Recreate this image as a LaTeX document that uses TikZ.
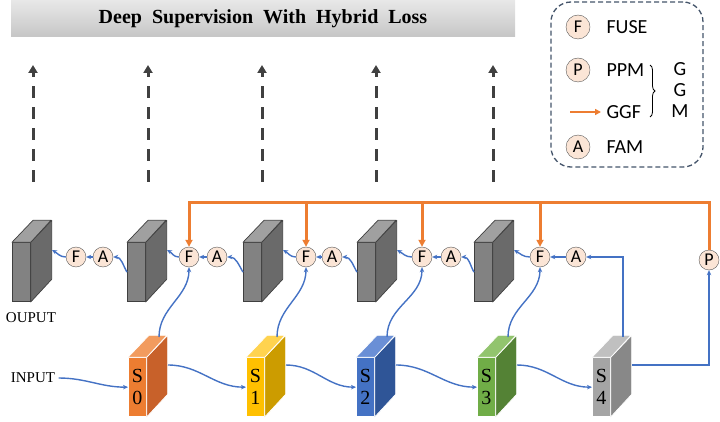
\documentclass[tikz,border=0pt]{standalone}
\usepackage{fontspec}
\setmainfont{Liberation Serif}
\newfontfamily\calib{Carlito}
\usetikzlibrary{arrows.meta,positioning,decorations.pathreplacing}

\definecolor{bluearrow}{HTML}{4472C4}
\definecolor{ggforange}{HTML}{ED7D31}
\definecolor{circfill}{HTML}{FBE5D6}
\definecolor{legendcol}{HTML}{44546A}
\definecolor{darkarrow}{HTML}{404040}
\definecolor{grayfront}{HTML}{828282}
\definecolor{grayside}{HTML}{6A6A6A}
\definecolor{graytop}{HTML}{A0A0A0}
\definecolor{grayedge}{HTML}{3F3F3F}
\definecolor{sofront}{HTML}{ED7D31}
\definecolor{soside}{HTML}{C8612A}
\definecolor{sotop}{HTML}{F29B5E}
\definecolor{sifront}{HTML}{FFC000}
\definecolor{siside}{HTML}{CC9C00}
\definecolor{sitop}{HTML}{FFD34F}
\definecolor{siifront}{HTML}{4472C4}
\definecolor{siiside}{HTML}{2F5597}
\definecolor{siitop}{HTML}{6A8FD6}
\definecolor{siiifront}{HTML}{70AD47}
\definecolor{siiiside}{HTML}{548235}
\definecolor{siiitop}{HTML}{92C46E}
\definecolor{sivfront}{HTML}{A5A5A5}
\definecolor{sivside}{HTML}{888888}
\definecolor{sivtop}{HTML}{C0C0C0}

\tikzset{
  op/.style={draw=gray!70!black, fill=circfill, circle, minimum size=20pt, inner sep=0pt,
    font=\calib\fontsize{18}{18}\selectfont},
  legop/.style={op, minimum size=24pt},
  blueline/.style={draw=bluearrow, line width=1.4pt, -{Stealth[length=5pt,width=4.5pt]}},
  ggfline/.style={draw=ggforange, line width=3pt, -{Triangle[length=7pt,width=7pt]}},
  superv/.style={draw=darkarrow, line width=3pt, dash pattern=on 12pt off 9pt,
    -{Triangle[length=8pt,width=9pt]}},
  lbl/.style={font=\fontsize{15}{15}\selectfont},
  legtext/.style={anchor=west, font=\calib\fontsize{20}{20}\selectfont},
  titlebar/.style={minimum width=504pt, minimum height=37pt, inner sep=0pt,
    top color=gray!18, bottom color=gray!45,
    font=\bfseries\fontsize{20}{20}\selectfont},
}

% feature map block: name, x, y, front, side, top, edge, text
\newcommand{\featmap}[8]{%
  \node[fill=#4, draw=#7, line width=0.7pt, minimum width=18pt, minimum height=59pt,
    inner sep=0pt, anchor=south west, align=center,
    font=\fontsize{20}{22}\selectfont] (#1) at (#2,#3) {#8};
  \filldraw[fill=#5, draw=#7, line width=0.7pt, line join=round]
    (#1.north east) -- ++(21,22) -- ++(0,-59) -- (#1.south east) -- cycle;
  \filldraw[fill=#6, draw=#7, line width=0.7pt, line join=round]
    (#1.north west) -- ++(21,22) -- ++(18,0) -- (#1.north east) -- cycle;
  \coordinate (#1s) at (#2+40,#3+52);
  \coordinate (#1t) at (#2+31,#3+80);
}

\begin{document}
\begin{tikzpicture}[x=1pt,y=1pt]
  \useasboundingbox (0,0) rectangle (720,421);

  \node[titlebar] (title) at (263,402.5) {\spaceskip=10pt\relax Deep Supervision With Hybrid Loss};
  \foreach \x in {33,148,262,376,493}
    \draw[superv] (\x,239) -- (\x,356);

  % legend
  \node[draw=legendcol, line width=1.3pt, dash pattern=on 5pt off 3pt, rounded corners=20pt,
    minimum width=152pt, minimum height=165pt] (legend) at (627,336.5) {};
  \node[legop] (lf) at (578,394) {F};
  \node[legtext] (lfuse) at (603,394) {FUSE};
  \node[legop] (lp) at (578,351) {P};
  \node[legtext] (lppm) at (603,351) {PPM};
  \coordinate (lggf0) at (570,309);
  \coordinate (lggf1) at (601,309);
  \draw[ggfline, line width=2.5pt, -{Triangle[length=6pt,width=6pt]}] (lggf0) -- (lggf1);
  \node[legtext] (lggf) at (603,309) {GGF};
  \node[legop] (la) at (578,274) {A};
  \node[legtext] (lfam) at (603,274) {FAM};
  \draw[decorate, decoration={brace, amplitude=5pt}, line width=0.8pt]
    (650,356) -- (650,304);
  \node[align=center, font=\calib\fontsize{20}{21}\selectfont] (ggm) at (680,331) {G\\G\\M};

  % feature maps
  \featmap{g1}{12}{119}{grayfront}{grayside}{graytop}{grayedge}{}
  \featmap{g2}{127}{119}{grayfront}{grayside}{graytop}{grayedge}{}
  \featmap{g3}{243}{119}{grayfront}{grayside}{graytop}{grayedge}{}
  \featmap{g4}{357}{119}{grayfront}{grayside}{graytop}{grayedge}{}
  \featmap{g5}{474}{119}{grayfront}{grayside}{graytop}{grayedge}{}

  \featmap{s0}{128}{4}{sofront}{soside}{sotop}{white}{S\\0}
  \featmap{s1}{246}{4}{sifront}{siside}{sitop}{white}{S\\1}
  \featmap{s2}{356}{4}{siifront}{siiside}{siitop}{white}{S\\2}
  \featmap{s3}{477}{4}{siiifront}{siiiside}{siiitop}{white}{S\\3}
  \featmap{s4}{592}{4}{sivfront}{sivside}{sivtop}{white}{S\\4}

  \node[lbl] (ouput) at (31,103) {OUPUT};
  \node[lbl] (input) at (33,43) {INPUT};

  % fuse / attention modules
  \node[op] (f1) at (76,164) {F};
  \node[op] (a1) at (103,164) {A};
  \node[op] (f2) at (189,164) {F};
  \node[op] (a2) at (217,164) {A};
  \node[op] (f3) at (306,164) {F};
  \node[op] (a3) at (332,164) {A};
  \node[op] (f4) at (422,164) {F};
  \node[op] (a4) at (451,164) {A};
  \node[op] (f5) at (540,164) {F};
  \node[op] (a5) at (576,164) {A};
  \node[op] (p) at (709,161) {P};

  % encoder path
  \draw[blueline] (input) to[out=0,in=180] (s0.west);
  \draw[blueline] (s0s) to[out=0,in=180] (s1.west);
  \draw[blueline] (s1s) to[out=0,in=180] (s2.west);
  \draw[blueline] (s2s) to[out=0,in=180] (s3.west);
  \draw[blueline] (s3s) to[out=0,in=180] (s4.west);
  \draw[blueline] (s4s) -| (p);
  \draw[blueline] (s4t) |- (a5);

  % skip connections
  \draw[blueline] (s0t) to[out=90,in=-90] (f2);
  \draw[blueline] (s1t) to[out=90,in=-90] (f3);
  \draw[blueline] (s2t) to[out=90,in=-90] (f4);
  \draw[blueline] (s3t) to[out=90,in=-90] (f5);

  % decoder path
  \draw[blueline] (a5) -- (f5);
  \draw[blueline] (f5) to[out=180,in=-30] (g5s);
  \draw[blueline] (g5.west) to[out=120,in=0] (a4);
  \draw[blueline] (a4) -- (f4);
  \draw[blueline] (f4) to[out=180,in=-30] (g4s);
  \draw[blueline] (g4.west) to[out=120,in=0] (a3);
  \draw[blueline] (a3) -- (f3);
  \draw[blueline] (f3) to[out=180,in=-30] (g3s);
  \draw[blueline] (g3.west) to[out=120,in=0] (a2);
  \draw[blueline] (a2) -- (f2);
  \draw[blueline] (f2) to[out=180,in=-30] (g2s);
  \draw[blueline] (g2.west) to[out=120,in=0] (a1);
  \draw[blueline] (a1) -- (f1);
  \draw[blueline] (f1) to[out=180,in=-30] (g1s);

  % global guidance flow
  \coordinate (gtop) at (709,219);
  \draw[ggfline] (p) -- (gtop) -| (f2);
  \foreach \n in {f3,f4,f5}
    \draw[ggfline] (\n |- gtop) -- (\n);
\end{tikzpicture}
\end{document}
